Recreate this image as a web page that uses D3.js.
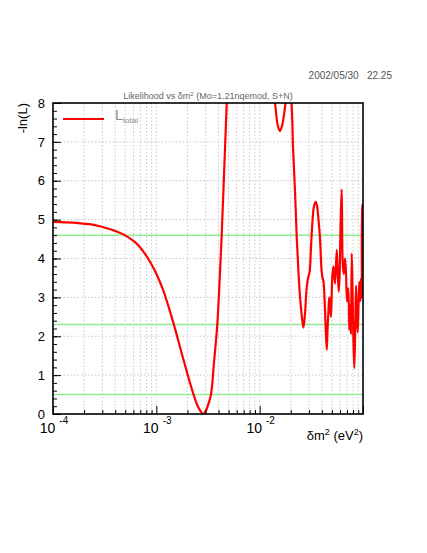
<!DOCTYPE html>
<html>
<head>
<meta charset="utf-8">
<script src="https://cdn.jsdelivr.net/npm/d3@7"></script>
<style>
  body { margin: 0; background: #fff; }
  text { font-family: "Liberation Sans", Arial, sans-serif; }
</style>
</head>
<body>
<div id="chart"></div>
<script>
// likelihood scan
var dm2 = [1.00e-4, 1.31e-4, 1.76e-4, 2.55e-4, 3.70e-4, 4.79e-4, 6.22e-4, 7.77e-4, 9.71e-4,
  1.16e-3, 1.46e-3, 1.82e-3, 2.28e-3, 2.55e-3, 2.85e-3, 3.03e-3, 3.18e-3, 3.38e-3, 3.62e-3,
  3.89e-3, 4.09e-3, 4.29e-3, 4.54e-3, 4.80e-3, 4.94e-3, 6.45e-3, 9.02e-3, 1.20e-2,
  1.41e-2, 1.49e-2, 1.57e-2, 1.66e-2, 1.78e-2, 1.90e-2, 2.03e-2,
  2.10e-2, 2.20e-2, 2.28e-2, 2.38e-2, 2.46e-2, 2.54e-2, 2.65e-2, 2.75e-2, 2.84e-2, 2.94e-2,
  3.04e-2, 3.14e-2, 3.25e-2, 3.36e-2, 3.49e-2, 3.59e-2, 3.71e-2, 3.84e-2, 3.97e-2, 4.06e-2,
  4.15e-2, 4.24e-2, 4.34e-2, 4.46e-2, 4.54e-2, 4.62e-2, 4.71e-2, 4.80e-2, 4.90e-2, 5.05e-2,
  5.18e-2, 5.36e-2, 5.57e-2, 5.69e-2, 5.82e-2, 5.93e-2, 6.06e-2, 6.22e-2, 6.36e-2, 6.52e-2,
  6.70e-2, 6.85e-2, 7.00e-2, 7.21e-2, 7.37e-2, 7.52e-2, 7.66e-2, 7.78e-2, 7.92e-2, 8.06e-2,
  8.24e-2, 8.41e-2, 8.56e-2, 8.71e-2, 8.89e-2, 9.05e-2, 9.21e-2, 9.40e-2, 9.57e-2, 9.72e-2,
  9.89e-2, 1.00e-1];
var negLnL = [4.94, 4.93, 4.91, 4.86, 4.74, 4.62, 4.42, 4.12, 3.68,
  3.2, 2.35, 1.42, 0.52, 0.17, 0.0, 0.1, 0.25, 0.5, 1.35,
  2.3, 3.4, 4.6, 6.3, 8.0, 9.0, 14, 13, 9.5,
  8.0, 7.45, 7.28, 7.45, 8.0, 8.5, 8.0,
  6.9, 5.7, 4.6, 3.6, 3.0, 2.6, 2.22, 2.6, 3.2, 3.5,
  3.65, 4.3, 5.0, 5.35, 5.46, 5.35, 5.0, 4.5, 3.7, 3.5,
  3.4, 3.0, 2.3, 1.65, 2.2, 2.6, 3.0, 2.85, 2.5, 3.55,
  3.8, 3.35, 4.22, 3.7, 3.15, 3.5, 4.8, 5.78, 3.9, 3.6,
  4.0, 3.6, 2.9, 3.24, 2.16, 2.8, 2.05, 4.13, 3.2, 2.0,
  1.18, 2.2, 3.3, 2.5, 2.1, 2.8, 3.4, 2.9, 3.5, 2.98,
  5.37, 5.4];
var levels = [0.5, 2.3, 4.6];
var decades = [1e-4, 1e-3, 1e-2, 1e-1];
var decadeExp = ["-4", "-3", "-2"];

var width = 427, height = 553;
var fL = 53, fR = 363, fT = 103, fB = 414;

var svg = d3.select("#chart").append("svg")
  .attr("width", width)
  .attr("height", height);

var x = d3.scaleLog().domain([1e-4, 1e-1]).range([fL, fR]);
var y = d3.scaleLinear().domain([0, 8]).range([fB, fT]);

// minor decade values 2..9
var minorX = [];
decades.slice(0, 3).forEach(function(d) {
  for (var k = 2; k <= 9; k++) minorX.push(d * k);
});

// grid
svg.append("g").selectAll("line")
  .data(minorX.concat(decades.slice(1, 3)))
  .enter().append("line")
  .attr("x1", function(d) { return x(d); })
  .attr("x2", function(d) { return x(d); })
  .attr("y1", fT).attr("y2", fB)
  .attr("stroke", "#c8c8c8")
  .attr("stroke-dasharray", "1.5,2");
svg.append("g").selectAll("line")
  .data(d3.range(1, 8))
  .enter().append("line")
  .attr("x1", fL).attr("x2", fR)
  .attr("y1", function(d) { return y(d); })
  .attr("y2", function(d) { return y(d); })
  .attr("stroke", "#c8c8c8")
  .attr("stroke-dasharray", "1.5,2");

// confidence levels
svg.append("g").selectAll("line")
  .data(levels)
  .enter().append("line")
  .attr("x1", fL).attr("x2", fR)
  .attr("y1", function(d) { return y(d); })
  .attr("y2", function(d) { return y(d); })
  .attr("stroke", "#93ec93")
  .attr("stroke-width", 1.5);

// curve
svg.append("clipPath").attr("id", "frame")
  .append("rect").attr("x", fL).attr("y", fT)
  .attr("width", fR - fL).attr("height", fB - fT);

var pts = dm2.map(function(d, i) { return [d, negLnL[i]]; });
var line = d3.line()
  .x(function(d) { return x(d[0]); })
  .y(function(d) { return y(d[1]); })
  .curve(d3.curveCatmullRom.alpha(0.5));

svg.append("path")
  .datum(pts)
  .attr("clip-path", "url(#frame)")
  .attr("d", line)
  .attr("fill", "none")
  .attr("stroke", "#ff0000")
  .attr("stroke-width", 2.2)
  .attr("stroke-linejoin", "round");

// axes
var yAxis = svg.append("g")
  .attr("transform", "translate(" + fL + ",0)")
  .call(d3.axisLeft(y).ticks(8).tickSize(-8).tickPadding(8).tickFormat(d3.format("d")));
svg.append("g")
  .attr("transform", "translate(" + fL + ",0)")
  .call(d3.axisLeft(y).tickValues(d3.range(0, 8.01, 0.2)).tickSize(-4).tickFormat(""));
svg.append("g")
  .attr("transform", "translate(0," + fB + ")")
  .call(d3.axisBottom(x).tickValues(decades).tickSize(-8).tickFormat(""));
svg.append("g")
  .attr("transform", "translate(0," + fB + ")")
  .call(d3.axisBottom(x).tickValues(minorX).tickSize(-4).tickFormat(""));

svg.selectAll(".domain").remove();
svg.selectAll(".tick line").attr("stroke", "#000");
yAxis.selectAll("text")
  .attr("font-size", 13)
  .attr("fill", "#000")
  .attr("font-family", "Liberation Sans, Arial, sans-serif");

// decade labels 10^n
var lab = svg.append("g").selectAll("text")
  .data(decades.slice(0, 3))
  .enter().append("text")
  .attr("x", function(d) { return x(d) + 1; })
  .attr("y", fB + 19)
  .attr("text-anchor", "middle")
  .attr("font-size", 14);
lab.append("tspan").text("10");
lab.append("tspan")
  .attr("dx", 4).attr("dy", -9)
  .attr("font-size", 10)
  .text(function(d, i) { return decadeExp[i]; });

// frame
svg.append("rect")
  .attr("x", fL).attr("y", fT)
  .attr("width", fR - fL).attr("height", fB - fT)
  .attr("fill", "none")
  .attr("stroke", "#000")
  .attr("stroke-width", 1.6);

// titles
var xt = svg.append("text")
  .attr("x", fR).attr("y", fB + 26)
  .attr("text-anchor", "end")
  .attr("font-size", 13);
xt.append("tspan").text("δm");
xt.append("tspan").attr("dy", -5).attr("font-size", 9).text("2");
xt.append("tspan").attr("dy", 5).text(" (eV");
xt.append("tspan").attr("dy", -5).attr("font-size", 9).text("2");
xt.append("tspan").attr("dy", 5).text(")");

svg.append("text")
  .attr("transform", "translate(27," + fT + ") rotate(-90)")
  .attr("text-anchor", "end")
  .attr("font-size", 13)
  .text("-ln(L)");

var tt = svg.append("text")
  .attr("x", (fL + fR) / 2).attr("y", 99)
  .attr("text-anchor", "middle")
  .attr("font-size", 9)
  .attr("fill", "#666");
tt.append("tspan").text("Likelihood vs δm");
tt.append("tspan").attr("dy", -3).attr("font-size", 6).text("2");
tt.append("tspan").attr("dy", 3).text(" (Mo=1.21nqemod, S+N)");

svg.append("text")
  .attr("x", 392).attr("y", 79)
  .attr("text-anchor", "end")
  .attr("font-size", 10)
  .attr("fill", "#555")
  .style("white-space", "pre")
  .text("2002/05/30   22.25");

// legend
svg.append("line")
  .attr("x1", 63).attr("x2", 104)
  .attr("y1", 119).attr("y2", 119)
  .attr("stroke", "#ff0000")
  .attr("stroke-width", 2.2);
var lg = svg.append("text")
  .attr("x", 115).attr("y", 120)
  .attr("fill", "#888")
  .attr("font-size", 14)
  .attr("font-weight", 300);
lg.append("tspan").text("L");
lg.append("tspan").attr("dx", 0).attr("dy", 3).attr("font-size", 8).text("total");
</script>
</body>
</html>
